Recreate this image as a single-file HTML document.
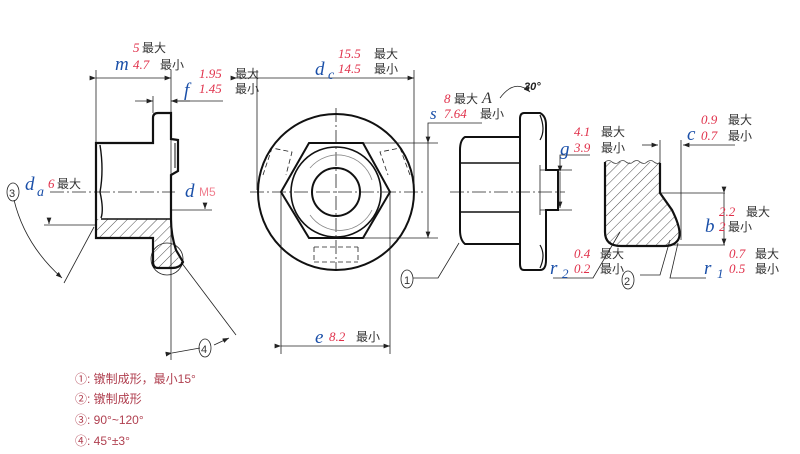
<!DOCTYPE html>
<html><head><meta charset="utf-8"><style>
html,body{margin:0;padding:0;background:#fff}
svg{display:block}
.r{fill:#e0304a;font-style:italic;font-family:"Liberation Serif",serif;font-size:13px}
.b{fill:#1a4fa8;font-style:italic;font-family:"Liberation Serif",serif;font-size:19px}
.k{fill:#333;font-family:"Liberation Sans","Noto Sans CJK SC",sans-serif;font-size:12px}
.n{fill:#b04050;font-family:"Liberation Sans","Noto Sans CJK SC",sans-serif;font-size:12px}
</style></head><body>
<svg width="800" height="454" viewBox="0 0 800 454" xmlns="http://www.w3.org/2000/svg">
<defs>
<pattern id="h" width="7" height="7" patternUnits="userSpaceOnUse" patternTransform="rotate(45)"><line x1="0" y1="0" x2="0" y2="7" stroke="#222" stroke-width="0.8"/></pattern>
<marker id="a" markerWidth="8" markerHeight="6" refX="8" refY="3" orient="auto"><path d="M0,0L8,3L0,6z" fill="#222"/></marker>
</defs>
<g fill="none" stroke="#222" stroke-width="0.8">
<!-- LEFT VIEW -->
<line x1="96" y1="70" x2="96" y2="143"/><line x1="171" y1="70" x2="171" y2="360"/>
<line x1="96" y1="78" x2="171" y2="78" marker-start="url(#a)" marker-end="url(#a)"/>
<line x1="135" y1="101" x2="153" y2="101" marker-end="url(#a)"/><line x1="190" y1="101" x2="171" y2="101" marker-end="url(#a)"/>
<line x1="171" y1="101" x2="223" y2="101"/><line x1="153" y1="96" x2="153" y2="113"/>
<line x1="50" y1="192" x2="95" y2="192" stroke-dasharray="14 3 2 3"/><line x1="96" y1="192" x2="175" y2="192" stroke-dasharray="14 3 2 3"/>
<line x1="44" y1="225" x2="96" y2="225"/><line x1="171" y1="210" x2="212" y2="210"/>
<line x1="49" y1="218" x2="49" y2="224" marker-end="url(#a)"/><line x1="205" y1="203" x2="205" y2="209" marker-end="url(#a)"/>
<circle cx="167" cy="259" r="16"/>
<line x1="181" y1="262" x2="236" y2="335"/>
<path d="M172,353 L200,348" marker-start="url(#a)"/><path d="M214,345 L229,338" marker-end="url(#a)"/>
<path d="M14,200 Q25,245 62,278" marker-end="url(#a)"/><line x1="64" y1="283" x2="94" y2="227"/>
<ellipse cx="13" cy="192" rx="6" ry="9"/>
<ellipse cx="205" cy="348" rx="6" ry="9"/>
</g>
<path d="M96,219 H171 V238 H96 Z" fill="url(#h)" stroke="none"/>
<path d="M155,238 H171 Q175,255 182,262 Q178,268 170,268 H158 Q153,268 153,262 Z" fill="url(#h)" stroke="none"/>
<path d="M96,143 H153 V118 Q153,113 158,113 H171 V139 L178,140 V171 L171,175 V219 Q171,235 176,250 L183,262 Q180,268 172,268 H158 Q153,268 153,262 V238 H96 Z" fill="none" stroke="#111" stroke-width="2.2"/>
<line x1="101" y1="219" x2="171" y2="219" stroke="#111" stroke-width="1.6"/>
<path d="M100,145 Q104,170 100,192 Q104,210 101,218" fill="none" stroke="#111" stroke-width="1.4"/>
<line x1="175" y1="143" x2="175" y2="168" stroke="#111" stroke-width="1"/>

<!-- MIDDLE VIEW -->
<g fill="none" stroke="#222" stroke-width="0.8">
<line x1="257" y1="70" x2="257" y2="190"/><line x1="414" y1="70" x2="414" y2="190"/>
<line x1="237" y1="78" x2="414" y2="78" marker-start="url(#a)" marker-end="url(#a)"/>
<line x1="281" y1="192" x2="281" y2="354"/><line x1="390" y1="192" x2="390" y2="354"/>
<line x1="281" y1="346" x2="390" y2="346" marker-start="url(#a)" marker-end="url(#a)"/>
<line x1="250" y1="192" x2="425" y2="192" stroke-dasharray="14 3 2 3"/>
<line x1="336" y1="108" x2="336" y2="270" stroke-dasharray="14 3 2 3"/>
<line x1="360" y1="143" x2="438" y2="143"/><line x1="360" y1="238" x2="438" y2="238"/>
<line x1="428" y1="143" x2="428" y2="238" marker-start="url(#a)" marker-end="url(#a)"/>
<polyline points="428,143 428,123 482,123"/>
<path d="M310,168 A36,36 0 0,1 372,180" stroke="#888"/>
<path d="M310,215 A36,36 0 0,0 372,210" stroke="#888"/>
<g stroke-dasharray="5 3"><path d="M263,175 L272,148 L292,152 L286,175"/><path d="M410,175 L400,148 L380,152 L388,175"/><path d="M314,247 H358 M314,262 H358 M314,247 V262 M358,247 V262"/></g>
</g>
<circle cx="336" cy="192" r="78" fill="none" stroke="#111" stroke-width="2"/>
<polygon points="281,192 309,143 363,143 390,192 363,238 309,238" fill="none" stroke="#111" stroke-width="2"/>
<circle cx="336" cy="192" r="45" fill="none" stroke="#111" stroke-width="1.6"/>
<circle cx="336" cy="192" r="24" fill="none" stroke="#111" stroke-width="2"/>

<!-- SIDE VIEW -->
<g fill="none" stroke="#222" stroke-width="0.8">
<line x1="450" y1="192" x2="565" y2="192" stroke-dasharray="14 3 2 3"/>
<line x1="540" y1="170" x2="572" y2="170"/><line x1="540" y1="210" x2="572" y2="210"/>
<line x1="560" y1="172" x2="560" y2="208" marker-start="url(#a)" marker-end="url(#a)"/>
<polyline points="560,170 560,155 590,155"/>
<polyline points="459,243 438,278 413,278"/>
<ellipse cx="407" cy="279" rx="6" ry="9"/>
<path d="M500,98 Q515,78 530,92" marker-end="url(#a)"/>
<line x1="540" y1="165" x2="540" y2="215"/>
</g>
<path d="M465,137 H520 V244 H465 Q460,240 460,230 V150 Q460,140 465,137 Z" fill="none" stroke="#111" stroke-width="2"/>
<line x1="460" y1="163" x2="520" y2="163" stroke="#111" stroke-width="1.6"/>
<line x1="460" y1="212" x2="520" y2="212" stroke="#111" stroke-width="1.6"/>
<path d="M524,113 H540 Q546,116 546,125 V170 H558 V210 H546 V260 Q546,270 540,270 H524 Q520,270 520,264 V119 Q520,113 524,113 Z" fill="none" stroke="#111" stroke-width="2"/>
<path d="M540,115 Q546,130 540,140 M540,245 Q546,255 540,268" fill="none" stroke="#111" stroke-width="1.2"/>

<!-- DETAIL -->
<g fill="none" stroke="#222" stroke-width="0.8">
<line x1="660" y1="140" x2="660" y2="165"/><line x1="681" y1="140" x2="681" y2="240"/>
<line x1="642" y1="145" x2="658" y2="145" marker-end="url(#a)"/><line x1="735" y1="145" x2="683" y2="145" marker-end="url(#a)"/>
<line x1="660" y1="193" x2="725" y2="193"/><line x1="672" y1="245" x2="725" y2="245"/>
<line x1="724" y1="193" x2="724" y2="245" marker-start="url(#a)" marker-end="url(#a)"/>
<polyline points="553,278 593,278 620,232"/>
<polyline points="640,275 660,275 670,240"/>
<polyline points="706,278 670,278 678,243"/>
<ellipse cx="628" cy="280" rx="6" ry="9"/>
</g>
<path d="M605,162 H660 V193 L672,210 Q683,232 678,240 Q674,246 664,246 H621 Q605,246 605,232 Z" fill="url(#h)" stroke="none"/>
<path d="M605,162 L605,232 Q605,246 621,246 H664 Q674,246 678,240 Q683,232 672,210 L660,193 V163" fill="none" stroke="#111" stroke-width="2.2"/>
<path d="M605,162 q4,-3 7,0 q4,3 7,0 q4,-3 7,0 q4,3 7,0 q4,-3 7,0 q4,3 7,0 q4,-3 7,0 q4,3 6,0" fill="none" stroke="#444" stroke-width="0.8"/>

<!-- TEXT -->
<text class="r" x="133" y="52">5</text><text class="k" x="142" y="52">最大</text>
<text class="b" x="115" y="70">m</text><text class="r" x="133" y="69">4.7</text><text class="k" x="160" y="69">最小</text>
<text class="r" x="199" y="78">1.95</text><text class="k" x="235" y="78">最大</text>
<text class="b" x="184" y="96">f</text><text class="r" x="199" y="93">1.45</text><text class="k" x="235" y="93">最小</text>
<text class="b" x="25" y="190">d</text><text class="b" x="37" y="196" style="font-size:14px">a</text><text class="r" x="48" y="188">6</text><text class="k" x="57" y="188">最大</text>
<text class="b" x="185" y="197">d</text><text x="199" y="196" style="fill:#f08090;font-family:'Liberation Sans',sans-serif;font-size:12px">M5</text>
<text class="r" x="338" y="58">15.5</text><text class="k" x="374" y="58">最大</text>
<text class="b" x="315" y="75">d</text><text class="b" x="328" y="79" style="font-size:14px">c</text><text class="r" x="338" y="73">14.5</text><text class="k" x="374" y="73">最小</text>
<text class="b" x="315" y="343">e</text><text class="r" x="329" y="341">8.2</text><text class="k" x="356" y="341">最小</text>
<text class="r" x="444" y="103">8</text><text class="k" x="454" y="103">最大</text><text class="b" x="482" y="103" style="font-size:16px;fill:#333">A</text>
<text class="b" x="430" y="119" style="font-size:17px">s</text><text class="r" x="444" y="118">7.64</text><text class="k" x="480" y="118">最小</text>
<text x="524" y="90" style="font-family:'Liberation Sans',sans-serif;font-size:11px;font-style:italic;font-weight:bold;fill:#222">30°</text>
<text class="r" x="574" y="136">4.1</text><text class="k" x="601" y="136">最大</text>
<text class="b" x="560" y="155">g</text><text class="r" x="574" y="152">3.9</text><text class="k" x="601" y="152">最小</text>
<text class="r" x="701" y="124">0.9</text><text class="k" x="728" y="124">最大</text>
<text class="b" x="687" y="140">c</text><text class="r" x="701" y="140">0.7</text><text class="k" x="728" y="140">最小</text>
<text class="r" x="719" y="216">2.2</text><text class="k" x="746" y="216">最大</text>
<text class="b" x="705" y="232">b</text><text class="r" x="719" y="231">2</text><text class="k" x="728" y="231">最小</text>
<text class="r" x="574" y="258">0.4</text><text class="k" x="600" y="258">最大</text>
<text class="b" x="550" y="274">r</text><text class="b" x="562" y="278" style="font-size:13px">2</text><text class="r" x="574" y="273">0.2</text><text class="k" x="600" y="273">最小</text>
<text class="r" x="729" y="258">0.7</text><text class="k" x="755" y="258">最大</text>
<text class="b" x="704" y="274">r</text><text class="b" x="717" y="278" style="font-size:13px">1</text><text class="r" x="729" y="273">0.5</text><text class="k" x="755" y="273">最小</text>
<text x="9" y="197" style="font-family:'Liberation Sans',sans-serif;font-size:11px;fill:#333">3</text>
<text x="201" y="353" style="font-family:'Liberation Sans',sans-serif;font-size:11px;fill:#333">4</text>
<text x="404" y="284" style="font-family:'Liberation Sans',sans-serif;font-size:11px;fill:#333">1</text>
<text x="624" y="285" style="font-family:'Liberation Sans',sans-serif;font-size:11px;fill:#333">2</text>
<text class="n" x="75" y="383">①:  镦制成形，最小15°</text>
<text class="n" x="75" y="403">②:  镦制成形</text>
<text class="n" x="75" y="424">③:  90°~120°</text>
<text class="n" x="75" y="445">④:  45°±3°</text>
</svg>
</body></html>
